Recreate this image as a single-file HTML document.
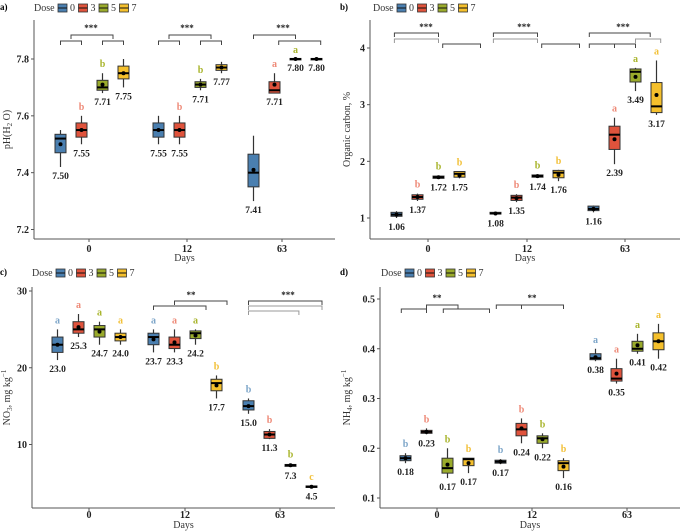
<!DOCTYPE html>
<html><head><meta charset="utf-8">
<style>
body{margin:0;background:#fff;}
svg{display:block;font-family:"Liberation Serif",serif;}
</style></head>
<body>
<svg id="fig" width="685" height="531" viewBox="0 0 685 531"></svg>
<script>
const doses = ["0","3","5","7"];
const days = ["0","12","63"];
// stats per group: [min,q1,median,q3,max,mean]
const phStats = [
 [[7.42,7.47,7.52,7.535,7.55,7.50],[7.50,7.525,7.55,7.575,7.60,7.55],[7.68,7.69,7.70,7.725,7.75,7.71],[7.70,7.73,7.75,7.775,7.80,7.75]],
 [[7.50,7.525,7.55,7.575,7.60,7.55],[7.50,7.525,7.55,7.575,7.60,7.55],[7.69,7.70,7.71,7.72,7.73,7.71],[7.75,7.76,7.77,7.78,7.79,7.77]],
 [[7.30,7.35,7.40,7.465,7.53,7.41],[7.68,7.68,7.69,7.72,7.75,7.71],[7.80,7.798,7.80,7.802,7.80,7.80],[7.80,7.798,7.80,7.802,7.80,7.80]]];
const phLabels = [["7.50","7.55","7.71","7.75"],["7.55","7.55","7.71","7.77"],["7.41","7.71","7.80","7.80"]];
const phLetters = [["","b","b",""],["","b","b",""],["","a","a",""]];
const ocStats = [
 [[1.0,1.03,1.06,1.10,1.12,1.06],[1.30,1.33,1.37,1.41,1.43,1.37],[1.70,1.70,1.72,1.74,1.75,1.72],[1.70,1.72,1.78,1.82,1.82,1.75]],
 [[1.06,1.07,1.08,1.10,1.10,1.08],[1.28,1.31,1.36,1.40,1.42,1.35],[1.71,1.72,1.74,1.76,1.77,1.74],[1.65,1.71,1.80,1.84,1.85,1.76]],
 [[1.10,1.13,1.16,1.21,1.22,1.16],[1.95,2.21,2.47,2.62,2.77,2.39],[3.24,3.40,3.58,3.63,3.65,3.49],[2.82,2.86,2.97,3.39,3.78,3.17]]];
const ocLabels = [["1.06","1.37","1.72","1.75"],["1.08","1.35","1.74","1.76"],["1.16","2.39","3.49","3.17"]];
const ocLetters = [["","b","b","b"],["","b","b","b"],["","a","a","a"]];
const no3Stats = [
 [[21,22,23,24,25,23.0],[24,24.5,25,26,27,25.3],[23,24,25,25.5,26,24.7],[23,23.5,24,24.5,25,24.0]],
 [[22,23,24,24.5,25,23.7],[22,22.5,23,24,25,23.3],[23,23.8,24.5,24.8,25,24.2],[16,17,18,18.5,19,17.7]],
 [[14,14.5,15,15.7,16,15.0],[10.7,10.8,11.3,11.7,12,11.3],[7.1,7.15,7.3,7.4,7.5,7.3],[4.4,4.4,4.5,4.6,4.6,4.5]]];
const no3Labels = [["23.0","25.3","24.7","24.0"],["23.7","23.3","24.2","17.7"],["15.0","11.3","7.3","4.5"]];
const no3Letters = [["a","a","a","a"],["a","a","a","b"],["b","b","b","c"]];
const nh4Stats = [
 [[0.17,0.175,0.18,0.185,0.19,0.18],[0.228,0.23,0.233,0.236,0.24,0.233],[0.14,0.15,0.16,0.18,0.20,0.167],[0.15,0.165,0.178,0.18,0.18,0.17]],
 [[0.168,0.17,0.173,0.176,0.178,0.173],[0.21,0.225,0.238,0.25,0.26,0.24],[0.20,0.21,0.22,0.225,0.23,0.218],[0.14,0.155,0.17,0.175,0.18,0.163]],
 [[0.375,0.378,0.381,0.39,0.40,0.383],[0.33,0.335,0.34,0.36,0.38,0.35],[0.39,0.395,0.40,0.415,0.43,0.407],[0.38,0.398,0.415,0.432,0.45,0.415]]];
const nh4Labels = [["0.18","0.23","0.17","0.17"],["0.17","0.24","0.22","0.16"],["0.38","0.35","0.41","0.42"]];
const nh4Letters = [["b","b","b","b"],["b","b","b","b"],["a","a","a","a"]];
const phTicks = [7.2,7.4,7.6,7.8];
const ocTicks = [1,2,3,4];
const no3Ticks = [10,20,30];
const nh4Ticks = [0.1,0.2,0.3,0.4,0.5];

const fill = ["#4a7fb0","#e0533c","#9aab2b","#f5c02c"];
const letterCol = ["#7ea6c9","#ee8a78","#a9b52e","#f2c13a"];
const NS="http://www.w3.org/2000/svg";
const svg=document.getElementById('fig');
function mk(tag,attrs,parent,text){const e=document.createElementNS(NS,tag);for(const k in attrs)e.setAttribute(k,attrs[k]);if(text!==undefined)e.textContent=text;(parent||svg).appendChild(e);return e;}

function panel(p){
  const g=mk('g',{});
  
  
  const y=v=>p.y1+(v-p.v1)*(p.y2-p.y1)/(p.v2-p.v1);
  const pl=mk('text',{x:p.ox,y:p.oy+10,'font-size':9,'font-weight':'bold'},g,p.id+')');
  
  
  const lg=mk('g',{},g);
  
  
  mk('text',{x:p.lx,y:p.oy+11,'font-size':10,fill:'#333'},lg,'Dose');
  doses.forEach((d,i)=>{
    const x=p.lx+24+i*20.5;
    const e=mk('g',{},lg);
    
    
    mk('rect',{x:x,y:p.oy+4,width:9,height:8,fill:fill[i],stroke:'#333','stroke-width':0.8},e);
    mk('line',{x1:x,x2:x+9,y1:p.oy+8,y2:p.oy+8,stroke:'#111','stroke-width':1},e);
    mk('text',{x:x+12,y:p.oy+11,'font-size':10,fill:'#333'},e,d);
  });
  const ax=mk('g',{},g);
  
  
  mk('line',{x1:p.ax,x2:p.ax,y1:p.top,y2:p.bottom,stroke:'#555','stroke-width':1},ax);
  p.ticks.forEach(t=>{
    mk('line',{x1:p.ax-3,x2:p.ax,y1:y(t),y2:y(t),stroke:'#555'},ax);
    const tl=mk('text',{x:p.ax-5,y:y(t)+3.5,'font-size':10,'font-weight':'bold','text-anchor':'end',fill:'#222'},ax,p.fmt(t));
    
    
  });
  const xa=mk('g',{},g);
  
  
  mk('line',{x1:p.ax,x2:p.right,y1:p.bottom,y2:p.bottom,stroke:'#555'},xa);
  days.forEach((d,j)=>{
    const cx=p.cat[j];
    mk('line',{x1:cx,x2:cx,y1:p.bottom,y2:p.bottom+3,stroke:'#555'},xa);
    const tl=mk('text',{x:cx,y:p.bottom+p.tickOff,'font-size':10,'font-weight':'bold','text-anchor':'middle',fill:'#222'},xa,d);
    
    
  });
  const xt=mk('text',{x:(p.ax+p.right)/2,y:p.bottom+p.titleOff,'font-size':10,'text-anchor':'middle',fill:'#333'},g,'Days');
  
  
  const yt=mk('text',{x:0,y:0,'font-size':10,'text-anchor':'middle',fill:'#333',transform:`translate(${p.ox+10},${(p.top+p.bottom)/2}) rotate(-90)`},g);
  yt.innerHTML=p.ytitle;
  
  
  days.forEach((d,j)=>{
    doses.forEach((ds,i)=>{
      const s=p.stats[j][i];
      const cx=p.cat[j]+p.gshift+(i-1.5)*21, w=11;
      const b=mk('g',{},g);
      
      
      mk('line',{x1:cx,x2:cx,y1:y(s[0]),y2:y(s[4]),stroke:'#333','stroke-width':1.2},b);
      const yq3=y(s[3]),yq1=y(s[1]);
      mk('rect',{x:cx-w/2,y:Math.min(yq1,yq3),width:w,height:Math.max(1.5,Math.abs(yq1-yq3)),fill:fill[i],stroke:'#333','stroke-width':1},b);
      mk('line',{x1:cx-w/2,x2:cx+w/2,y1:y(s[2]),y2:y(s[2]),stroke:'#000','stroke-width':2},b);
      mk('circle',{cx:cx,cy:y(s[5]),r:2,fill:'#000'},b);
      const vl=mk('text',{x:cx,y:y(s[0])+12,'font-size':9.5,'font-weight':'bold','text-anchor':'middle',fill:'#222'},b,p.labels[j][i]);
      
      
      if(p.letters[j][i]){
        const lt=mk('text',{x:cx,y:y(s[4])-6,'font-size':10,'font-weight':'bold','text-anchor':'middle',fill:letterCol[i]},b,p.letters[j][i]);
        
        
      }
    });
  });
  p.brackets.forEach(br=>{
    const [j,a,bI,yy,gray]=br;
    const x1=p.cat[j]+p.gshift+(a-1.5)*21, x2=p.cat[j]+p.gshift+(bI-1.5)*21;
    mk('path',{d:`M${x1},${yy+4}V${yy}H${x2}V${yy+4}`,fill:'none',stroke:gray?'#999':'#444','stroke-width':1},g);
  });
  p.stars.forEach(st=>{
    const t=mk('text',{x:st[0],y:st[1],'font-size':9,'font-weight':'bold','text-anchor':'middle',fill:'#222'},g,st[2]);
    
    
  });
}

panel({id:'a',ox:0,oy:0,lx:34,ax:34,right:335,top:20,bottom:239,tickOff:13,titleOff:22,v1:7.8,y1:59,v2:7.2,y2:229.5,ticks:phTicks,fmt:t=>t.toFixed(1),
  cat:[89,187,282],gshift:3,stats:phStats,labels:phLabels,letters:phLetters,ytitle:'pH(H<tspan font-size="7" dy="2">2</tspan><tspan dy="-2"> O)</tspan>',
  brackets:[[0,0,1,41],[0,2,3,41],[0,0.5,2.5,35],[1,0,1,41],[1,2,3,41],[1,0.5,2.5,35],[2,0,2,35],[2,1.2,3.2,41]],
  stars:[[91,31,'***'],[187,31,'***'],[283,31,'***']]});
panel({id:'b',ox:340,oy:0,lx:373,ax:370,right:680,top:20,bottom:239,tickOff:13,titleOff:22,v1:4,y1:48,v2:1,y2:218,ticks:ocTicks,fmt:t=>String(t),
  cat:[428,527,625],gshift:0,stats:ocStats,labels:ocLabels,letters:ocLetters,ytitle:'Organic carbon, %',
  brackets:[[0,-0.1,2,33],[0,-0.1,2,39,1],[0,2.2,4,44],[1,-0.1,2,33],[1,-0.1,2,39,1],[1,2.2,4,44],[2,-0.2,2.7,33],[2,-0.2,1,44],[2,1,2,44],[2,2,3.2,39,1]],
  stars:[[426,30,'***'],[524,30,'***'],[623,30,'***']]});
panel({id:'c',ox:0,oy:265,lx:32,ax:32,right:335,top:287,bottom:508,tickOff:10,titleOff:20,v1:30,y1:291,v2:10,y2:444.5,ticks:no3Ticks,fmt:t=>String(t),
  cat:[89,185,280],gshift:0,stats:no3Stats,labels:no3Labels,letters:no3Letters,ytitle:'NO<tspan font-size="7" dy="2">3</tspan><tspan dy="-2">, mg kg</tspan><tspan font-size="7" dy="-4">−1</tspan>',
  brackets:[[1,0,2.5,306],[1,1,3.5,301],[2,0,3.5,301],[2,0,3.5,306,1],[2,0,2.4,311,1]],
  stars:[[191,298,'**'],[288,298,'***']]});
panel({id:'d',ox:340,oy:265,lx:381,ax:380,right:680,top:287,bottom:508,tickOff:10,titleOff:20,v1:0.5,y1:299,v2:0.1,y2:498,ticks:nh4Ticks,fmt:t=>t.toFixed(1),
  cat:[437,532,627],gshift:0,stats:nh4Stats,labels:nh4Labels,letters:nh4Letters,ytitle:'NH<tspan font-size="7" dy="2">4</tspan><tspan dy="-2">, mg kg</tspan><tspan font-size="7" dy="-4">−1</tspan>',
  brackets:[[0,-0.2,1,309],[0,1,2.5,305],[0,1.8,4,309],[1,-0.2,1,305],[1,1,3,305]],
  stars:[[437,301,'**'],[532,301,'**']]});
</script>
</body></html>
